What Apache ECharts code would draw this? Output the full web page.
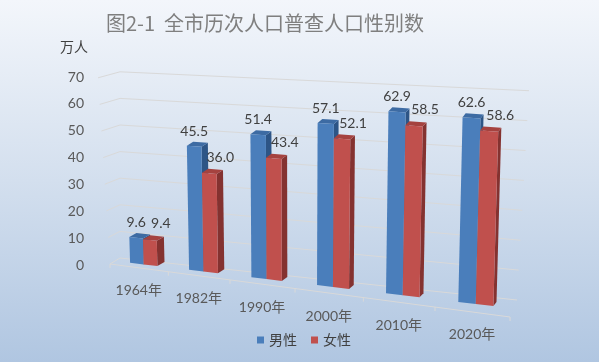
<!DOCTYPE html>
<html><head><meta charset="utf-8">
<script src="https://cdn.jsdelivr.net/npm/echarts@6/dist/echarts.min.js"></script>
<style>html,body{margin:0;padding:0;}#c{width:599px;height:362px;}</style>
</head><body><div id="c"></div>
<script>
// ---- data ----
const categories = ['1964年', '1982年', '1990年', '2000年', '2010年', '2020年'];
const maleValues = [9.6, 45.5, 51.4, 57.1, 62.9, 62.6];
const femaleValues = [9.4, 36.0, 43.4, 52.1, 58.5, 58.6];
const yTicks = [0, 10, 20, 30, 40, 50, 60, 70];
const seriesNames = ['男性', '女性'];
const titleText = '图2-1  全市历次人口普查人口性别数';
const unitText = '万人';

// ---- layout ----
const GRID = { left: 110, right: 89, top: 77, bottom: 97 };
const W = 599, H = 362;
const GW = W - GRID.left - GRID.right;  // 400
const GH = H - GRID.top - GRID.bottom;  // 188
const GBOT = GRID.top + GH;
const NUM_FONT = 'Lato, "Noto Sans CJK SC", sans-serif';

// perspective warp of the flat grid coordinates (pt from api.coord), d = depth 0 front .. 1 back wall
function warp(pt, d) {
  const q = (pt[0] - GRID.left) / GW * categories.length;
  const hpx = GBOT - pt[1];
  const fX = 110 + 56.67 * q + 1.667 * q * q;
  const bX = 120 + (fX - 110) * 0.9925;
  const x0 = fX + (bX - fX) * d;
  const yF = 264 + (fX - 110) * 0.1325;
  const yB = 258 + (bX - 120) * 0.1058;
  const y0 = yF + (yB - yF) * d;
  const k0 = GH / 70;
  const tilt = ((1 - d) * (-0.171 + 0.03 * q) + d * 0.0285 * q) / k0;
  const sc = (2.66 + 0.055 * q) / k0;
  return [x0 + tilt * hpx, y0 - sc * hpx];
}

const COLORS = {
  male: { front: '#4a7ebb', top: '#3d6ba3', side: '#2d5586' },
  female: { front: '#c0504d', top: '#a5423f', side: '#843230' }
};

function barRender(cs, isRed) {
  return function (params, api) {
    const i = api.value(0), v = api.value(1);
    const c = api.coord([i, v]);
    const c0 = api.coord([i, 0]);
    const bw = api.size([1, 0])[0];
    const w = bw * 0.235;
    const xl = isRed ? c[0] : c[0] - w;
    const xr = isRed ? c[0] + w : c[0];
    const d = 0.5;
    const BL = warp([xl, c0[1]], d), BR = warp([xr, c0[1]], d);
    const TR = warp([xr, c[1]], d), TL = warp([xl, c[1]], d);
    const q = (c[0] - GRID.left) / GW * categories.length;
    const dv = [7.5 - 0.8 * q, -4];
    const add = p => [p[0] + dv[0], p[1] + dv[1]];
    const mx = (TL[0] + TR[0]) / 2, my = (TL[1] + TR[1]) / 2;
    const lx = isRed ? mx + 11 : mx, ly = isRed ? my - 16 : my - 15;
    return {
      type: 'group',
      children: [
        { type: 'polygon', shape: { points: [BR, TR, add(TR), add(BR)] }, style: { fill: cs.side } },
        { type: 'polygon', shape: { points: [TL, TR, add(TR), add(TL)] }, style: { fill: cs.top } },
        { type: 'polygon', shape: { points: [BL, BR, TR, TL] }, style: { fill: cs.front } },
        { type: 'text', style: { text: v.toFixed(1), x: lx, y: ly, fill: '#404040', font: '14px ' + NUM_FONT,
          align: 'center', verticalAlign: 'middle', textAlign: 'center', textVerticalAlign: 'middle' } }
      ]
    };
  };
}

function wallRender(params, api) {
  const g = api.value(0);
  const n = categories.length;
  const a = api.coord([0, g]);
  const bw = api.size([1, 0])[0];
  const left = [a[0] - bw / 2, a[1]];
  const right = [a[0] - bw / 2 + bw * n, a[1]];
  return {
    type: 'polyline',
    shape: { points: [warp(left, 0), warp(left, 1), warp(right, 1)] },
    style: { stroke: '#d9d9d9', lineWidth: 1, fill: null }
  };
}

function floorRender(params, api) {
  const i = api.value(0);
  const n = categories.length;
  const c = api.coord([i, 0]);
  const bw = api.size([1, 0])[0];
  const children = [];
  const tickAt = gx => {
    const p = warp([gx, c[1]], 0);
    children.push({ type: 'line', shape: { x1: p[0], y1: p[1], x2: p[0], y2: p[1] + 4 }, style: { stroke: '#d9d9d9', lineWidth: 1 } });
  };
  tickAt(c[0] - bw / 2);
  if (i === n - 1) tickAt(c[0] + bw / 2);
  if (i === 0) {
    const p1 = warp([c[0] - bw / 2, c[1]], 0);
    const p2 = warp([c[0] - bw / 2 + bw * n, c[1]], 0);
    children.push({ type: 'line', shape: { x1: p1[0], y1: p1[1], x2: p2[0], y2: p2[1] }, style: { stroke: '#d9d9d9', lineWidth: 1 } });
  }
  const lp = warp([c[0], c[1]], 0);
  children.push({ type: 'text', style: { text: categories[i], x: lp[0], y: lp[1] + 23, fill: '#595959', font: '14px ' + NUM_FONT,
    align: 'center', verticalAlign: 'middle', textAlign: 'center', textVerticalAlign: 'middle' } });
  return { type: 'group', children };
}

const chart = echarts.init(document.getElementById('c'));
chart.setOption({
  animation: false,
  backgroundColor: {
    type: 'linear', x: 0, y: 0, x2: 0, y2: 1,
    colorStops: [{ offset: 0, color: '#f3f6fb' }, { offset: 0.5, color: '#d3dfee' }, { offset: 1, color: '#b0c6e1' }]
  },
  title: {
    text: titleText, left: 260, top: 5, textAlign: 'center',
    textStyle: { fontFamily: '"Noto Sans CJK SC", sans-serif', fontSize: 20, fontWeight: 'normal', color: '#7f7f7f', lineHeight: 26 }
  },
  graphic: [{ type: 'text', left: 60, top: 40, style: { text: unitText, fill: '#404040', font: '14px "Noto Sans CJK SC", sans-serif' } }],
  legend: {
    data: seriesNames, left: 252, top: 328, itemWidth: 7, itemHeight: 7, itemGap: 14, icon: 'rect',
    textStyle: { fontSize: 14, color: '#404040', fontFamily: '"Noto Sans CJK SC", sans-serif' }
  },
  grid: { left: GRID.left, right: GRID.right, top: GRID.top, bottom: GRID.bottom, containLabel: false },
  xAxis: { type: 'category', data: categories, show: false },
  yAxis: {
    type: 'value', min: 0, max: 70, interval: 10,
    axisLine: { show: false }, axisTick: { show: false }, splitLine: { show: false },
    axisLabel: { margin: 26, color: '#595959', fontSize: 14, fontFamily: NUM_FONT }
  },
  series: [
    { type: 'custom', name: 'walls', renderItem: wallRender, data: yTicks.map(t => [t]), encode: { y: 0 }, clip: false, silent: true, z: 1 },
    { type: 'custom', name: 'floor', renderItem: floorRender, data: categories.map((c, i) => [i, 0]), encode: { x: 0, y: 1 }, clip: false, silent: true, z: 1 },
    { type: 'custom', name: seriesNames[0], renderItem: barRender(COLORS.male, false), itemStyle: { color: COLORS.male.front },
      data: maleValues.map((v, i) => [i, v]), encode: { x: 0, y: 1 }, clip: false, z: 2 },
    { type: 'custom', name: seriesNames[1], renderItem: barRender(COLORS.female, true), itemStyle: { color: COLORS.female.front },
      data: femaleValues.map((v, i) => [i, v]), encode: { x: 0, y: 1 }, clip: false, z: 2 }
  ]
});
</script></body></html>
